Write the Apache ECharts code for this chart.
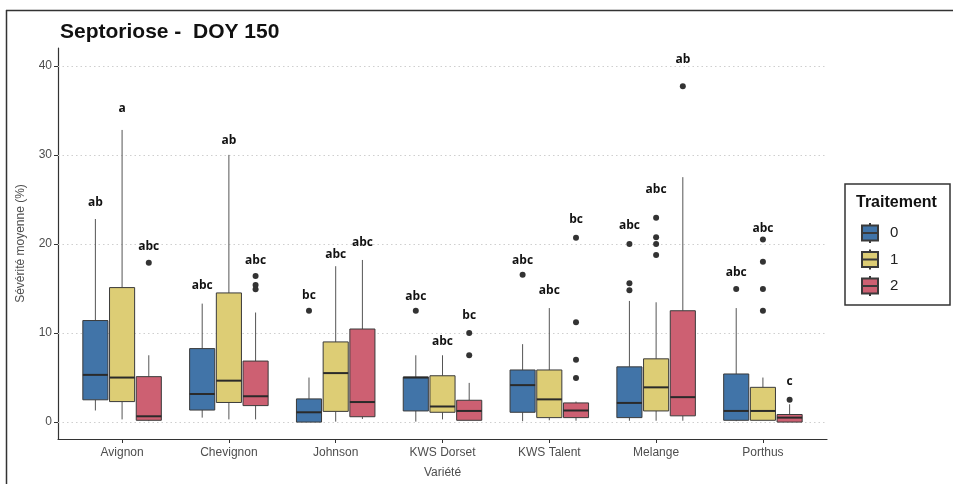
<!DOCTYPE html>
<html>
<head>
<meta charset="utf-8">
<script src="https://cdn.jsdelivr.net/npm/echarts@6/dist/echarts.min.js"></script>
<style>
  html, body { margin: 0; padding: 0; background: #ffffff; }
  #chart { width: 953px; height: 484px; }
</style>
</head>
<body>
<div id="chart"></div>
<script>
// Varieties along the x axis
const categories = ['Avignon', 'Chevignon', 'Johnson', 'KWS Dorset', 'KWS Talent', 'Melange', 'Porthus'];
const treatments = ['0', '1', '2'];
const yTicks = [0, 10, 20, 30, 40];

// Box statistics per variety: [lower whisker, Q1, median, Q3, upper whisker]
const stats0 = [
  [1.3, 2.5, 5.3, 11.4, 22.8],
  [0.5, 1.35, 3.15, 8.25, 13.3],
  [0.0, 0.0, 1.1, 2.6, 5.0],
  [0.05, 1.25, 5.0, 5.05, 7.5],
  [0.1, 1.1, 4.15, 5.85, 8.75],
  [0.15, 0.5, 2.15, 6.2, 13.6],
  [0.1, 0.2, 1.25, 5.4, 12.8]
];
const stats1 = [
  [0.3, 2.3, 5.0, 15.1, 32.8],
  [0.3, 2.2, 4.65, 14.5, 30.0],
  [0.05, 1.2, 5.5, 9.0, 17.5],
  [0.3, 1.1, 1.75, 5.2, 7.5],
  [0.2, 0.5, 2.55, 5.85, 12.8],
  [0.15, 1.25, 3.9, 7.1, 13.45],
  [0.2, 0.2, 1.25, 3.9, 5.0]
];
const stats2 = [
  [0.1, 0.2, 0.65, 5.1, 7.5],
  [0.3, 1.85, 2.9, 6.85, 12.3],
  [0.35, 0.6, 2.25, 10.45, 18.2],
  [0.2, 0.2, 1.25, 2.45, 4.4],
  [0.15, 0.5, 1.3, 2.15, 2.3],
  [0.15, 0.7, 2.8, 12.5, 27.5],
  [0.0, 0.0, 0.5, 0.85, 2.0]
];

// Outliers: [variety index, value]
const outliers0 = [[2, 12.5], [3, 12.5], [4, 16.55], [5, 20.0], [5, 15.6], [5, 14.8], [6, 14.95]];
const outliers1 = [[5, 22.95], [5, 20.75], [5, 20.0], [5, 18.75], [6, 20.5], [6, 18.0], [6, 14.95], [6, 12.5]];
const outliers2 = [[0, 17.9], [1, 16.4], [1, 15.4], [1, 14.9], [3, 10.0], [3, 7.5], [4, 20.7], [4, 11.2], [4, 7.0], [4, 4.95], [5, 37.7], [6, 2.5]];

// Significance letters and the height they are written at
const letters0 = ['ab', 'abc', 'bc', 'abc', 'abc', 'abc', 'abc'];
const letterY0 = [24.6, 15.3, 14.2, 14.1, 18.1, 22.05, 16.8];
const letters1 = ['a', 'ab', 'abc', 'abc', 'abc', 'abc', 'abc'];
const letterY1 = [35.2, 31.6, 18.8, 9.0, 14.75, 26.05, 21.7];
const letters2 = ['abc', 'abc', 'abc', 'bc', 'bc', 'ab', 'c'];
const letterY2 = [19.7, 18.1, 20.2, 12.0, 22.7, 40.7, 4.55];

const fills = ['#4174A8', '#DDCD75', '#CD6072'];
const dodge = [-0.25, 0, 0.25];
const boxWidth = 0.235;

const allStats = [stats0, stats1, stats2];
const allOutliers = [outliers0, outliers1, outliers2];
const allLetters = [letters0, letters1, letters2];
const allLetterY = [letterY0, letterY1, letterY2];

const chart = echarts.init(document.getElementById('chart'), null, { renderer: 'canvas' });

function boxRenderer(t) {
  return function (params, api) {
    const x = api.value(0) + dodge[t];
    const low = api.coord([x, api.value(1)]);
    const q1 = api.coord([x, api.value(2)]);
    const med = api.coord([x, api.value(3)]);
    const q3 = api.coord([x, api.value(4)]);
    const high = api.coord([x, api.value(5)]);
    const half = api.size([boxWidth, 0])[0] / 2;
    const cx = q1[0];
    return {
      type: 'group',
      children: [
        { type: 'line', shape: { x1: cx, y1: q3[1], x2: cx, y2: high[1] }, style: { stroke: '#555', lineWidth: 1 } },
        { type: 'line', shape: { x1: cx, y1: q1[1], x2: cx, y2: low[1] }, style: { stroke: '#555', lineWidth: 1 } },
        { type: 'rect', shape: { x: cx - half, y: q3[1], width: half * 2, height: q1[1] - q3[1] },
          style: { fill: fills[t], stroke: '#3a3a3a', lineWidth: 1 } },
        { type: 'line', shape: { x1: cx - half, y1: med[1], x2: cx + half, y2: med[1] }, style: { stroke: '#2a2a2a', lineWidth: 2 } }
      ]
    };
  };
}

function letterRenderer(t) {
  return function (params, api) {
    const p = api.coord([api.value(0) + dodge[t], api.value(1)]);
    return {
      type: 'text',
      x: p[0], y: p[1],
      style: {
        text: allLetters[t][params.dataIndex],
        fill: '#111', font: 'bold 12px "Open Sans", "Liberation Sans", sans-serif',
        align: 'center', verticalAlign: 'middle'
      }
    };
  };
}

const series = [];
treatments.forEach(function (name, t) {
  series.push({
    name: name,
    type: 'custom',
    renderItem: boxRenderer(t),
    itemStyle: { color: fills[t], borderColor: '#3a3a3a', borderWidth: 1 },
    encode: { x: 0, y: [1, 2, 3, 4, 5] },
    data: allStats[t].map(function (s, i) { return [i + 1].concat(s); }),
    z: 3,
    markLine: t === 0 ? {
      silent: true, symbol: 'none', label: { show: false },
      lineStyle: { color: '#cfcfcf', width: 1, type: [1.5, 3] },
      data: yTicks.map(function (v) { return { yAxis: v }; }),
      z: 1
    } : undefined
  });
});
treatments.forEach(function (name, t) {
  series.push({
    name: name,
    type: 'scatter',
    symbolSize: 6,
    itemStyle: { color: '#333', opacity: 1 },
    z: 4,
    data: allOutliers[t].map(function (o) { return [o[0] + 1 + dodge[t], o[1]]; })
  });
});
treatments.forEach(function (name, t) {
  series.push({
    name: 'letters' + name,
    type: 'custom',
    renderItem: letterRenderer(t),
    z: 5,
    data: allLetterY[t].map(function (y, i) { return [i + 1, y]; })
  });
});

const axisText = { color: '#4d4d4d', fontSize: 12, fontFamily: '"Liberation Sans", Arial, sans-serif' };

chart.setOption({
  backgroundColor: '#ffffff',
  animation: false,
  title: {
    text: 'Septoriose -  DOY 150',
    left: 55, top: 17,
    textStyle: { fontSize: 21, fontWeight: 'bold', color: '#111', fontFamily: '"Liberation Sans", Arial, sans-serif' }
  },
  grid: { left: 58, right: 126, top: 48, bottom: 45, containLabel: false },
  xAxis: {
    type: 'value', min: 0.4, max: 7.6,
    name: 'Variété', nameLocation: 'middle', nameGap: 28,
    nameTextStyle: axisText,
    axisLine: { show: true, onZero: false, lineStyle: { color: '#333', width: 1.2 } },
    axisTick: { show: true, length: 4, customValues: [1, 2, 3, 4, 5, 6, 7], lineStyle: { color: '#333' } },
    axisLabel: {
      customValues: [1, 2, 3, 4, 5, 6, 7], margin: 8, ...axisText,
      formatter: function (v) { return categories[Math.round(v) - 1]; }
    },
    splitLine: { show: false }
  },
  yAxis: {
    type: 'value', min: -1.9, max: 42,
    name: 'Sévérité moyenne (%)', nameLocation: 'middle', nameGap: 31,
    nameTextStyle: axisText,
    axisLine: { show: true, onZero: false, lineStyle: { color: '#333', width: 1.2 } },
    axisTick: { show: true, length: 4, customValues: yTicks, lineStyle: { color: '#333' } },
    axisLabel: { customValues: yTicks, margin: 6, ...axisText },
    splitLine: { show: false }
  },
  legend: {
    data: treatments.map(function (n) {
      return { name: n, icon: 'path://M8,0 L8,2 M0,2 L16,2 L16,14 L0,14 Z M0,8 L16,8 M8,14 L8,16' };
    }),
    orient: 'vertical', left: 856, top: 217,
    itemWidth: 16, itemHeight: 20, itemGap: 4.5,
    symbolKeepAspect: false,
    textStyle: { fontSize: 15, color: '#222', padding: [0, 0, 0, 7], fontFamily: '"Liberation Sans", Arial, sans-serif' },
    selectedMode: false
  },
  graphic: [
    { type: 'line', shape: { x1: 6.5, y1: 10, x2: 6.5, y2: 484 }, style: { stroke: '#333', lineWidth: 1.5 } },
    { type: 'line', shape: { x1: 6, y1: 10.5, x2: 953, y2: 10.5 }, style: { stroke: '#333', lineWidth: 1.5 } },
    { type: 'rect', shape: { x: 845, y: 184, width: 105, height: 121 }, style: { fill: 'none', stroke: '#333', lineWidth: 1.5 } },
    { type: 'text', x: 856, y: 195, style: { text: 'Traitement', font: 'bold 16px "Liberation Sans", Arial, sans-serif', fill: '#111' } }
  ],
  series: series
});
</script>
</body>
</html>
